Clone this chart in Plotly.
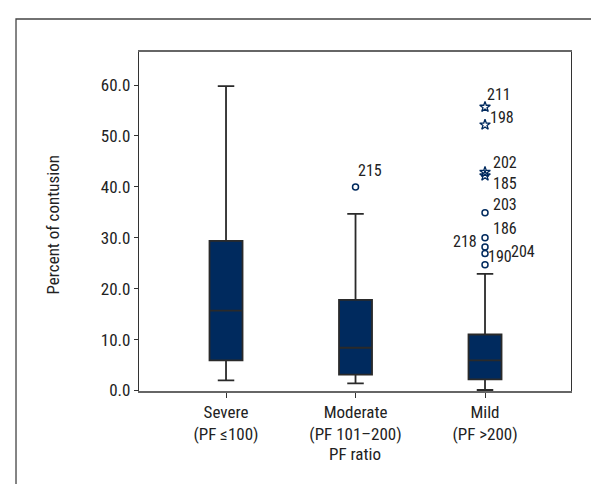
import plotly.graph_objects as go

categories = ["Severe<br>(PF ≤100)", "Moderate<br>(PF 101–200)", "Mild<br>(PF >200)"]
q1 = [5.9, 3.1, 2.2]
median = [15.7, 8.4, 5.9]
q3 = [29.4, 17.8, 11.0]
lower = [2.0, 1.4, 0.1]
upper = [59.8, 34.7, 22.9]

# outliers (category index, value, case id)
circle_cat = [1, 2, 2, 2, 2, 2]
circle_val = [40.0, 34.9, 30.0, 28.2, 26.9, 24.7]
circle_id = ["215", "203", "186", "218", "190", "204"]
star_cat = [2, 2, 2, 2]
star_val = [55.7, 52.2, 42.9, 42.2]
star_id = ["211", "198", "202", "185"]

yticks = [0, 10, 20, 30, 40, 50, 60]

FONT = "Liberation Sans Narrow, Roboto Condensed, DejaVu Sans Condensed, Arial Narrow, sans-serif"
NAVY = "#002a5e"

fig = go.Figure()
xs = list(range(len(categories)))
fig.add_trace(go.Box(
    x=xs, q1=q1, median=median, q3=q3, lowerfence=lower, upperfence=upper,
    boxpoints=False, fillcolor=NAVY, line=dict(color="#2a2a2a", width=1.8),
    width=0.255, whiskerwidth=0.5, showlegend=False, hoverinfo="skip"))
fig.add_trace(go.Scatter(
    x=circle_cat, y=circle_val, mode="markers",
    marker=dict(symbol="circle-open", size=6, color=NAVY, line=dict(width=1.5)),
    showlegend=False))
fig.add_trace(go.Scatter(
    x=star_cat, y=star_val, mode="markers",
    marker=dict(symbol="star-open", size=8, color=NAVY, line=dict(width=1.3)),
    showlegend=False))

# label pixel offsets relative to their point (style, not data)
offsets = {
    "215": (14, 16), "203": (20, 8), "186": (20, 9), "218": (-20, 5),
    "190": (15, -3), "204": (38, 13),
    "211": (14, 12), "198": (17, 7), "202": (20, 10), "185": (20, -8),
}
for c, v, lab in list(zip(circle_cat, circle_val, circle_id)) + list(zip(star_cat, star_val, star_id)):
    dx, dy = offsets[lab]
    fig.add_annotation(x=c, y=v, text=lab, showarrow=False, xshift=dx, yshift=dy,
                       xanchor="center", yanchor="middle",
                       font=dict(family=FONT, size=16, color="#222"))

# y axis title
fig.add_annotation(xref="paper", yref="paper", x=-0.20, y=0.49, text="Percent of contusion",
                   textangle=-90, showarrow=False, xanchor="center", yanchor="middle",
                   font=dict(family=FONT, size=17, color="#222"))

# outer frame
fig.add_shape(type="rect", xref="paper", yref="paper", x0=-0.2847, y0=-0.6, x1=1.3, y1=1.0973,
              line=dict(color="#444", width=1.3), fillcolor="rgba(0,0,0,0)", layer="below")

fig.update_layout(
    width=599, height=484,
    margin=dict(l=131, r=36, t=44, b=101),
    plot_bgcolor="white", paper_bgcolor="white",
    font=dict(family=FONT, size=17, color="#222"),
    xaxis=dict(range=[-0.672, 2.664], tickvals=xs, ticktext=categories,
               showline=True, linecolor="#666", linewidth=1.5, mirror=True,
               ticks="outside", ticklen=5, tickcolor="#333", showgrid=False, zeroline=False,
               tickfont=dict(family=FONT, size=17),
               title=dict(text="PF ratio", standoff=0, font=dict(family=FONT, size=17))),
    yaxis=dict(range=[-0.1, 66.5], tickvals=yticks, ticktext=[f"{t:.1f}" for t in yticks],
               showline=True, linecolor="#333", linewidth=1.3, mirror=True,
               tickfont=dict(family=FONT, size=17),
               ticks="outside", ticklen=4, tickcolor="#333", showgrid=False, zeroline=False),
)

fig.write_html("out.html")
